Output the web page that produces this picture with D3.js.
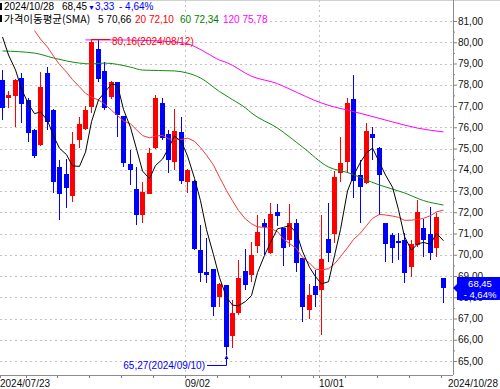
<!DOCTYPE html>
<html>
<head>
<meta charset="utf-8">
<script src="https://cdn.jsdelivr.net/npm/d3@7"></script>
<style>
body { margin: 0; background: #fff; }
svg { display: block; font-family: "Liberation Sans", Arial, sans-serif; }
</style>
</head>
<body>
<div id="chart"></div>
<script>
// trading days shown
const dates = [
  "2024/07/23","2024/07/24","2024/07/25","2024/07/26","2024/07/29","2024/07/30","2024/07/31",
  "2024/08/01","2024/08/02","2024/08/05","2024/08/06","2024/08/07","2024/08/08","2024/08/09",
  "2024/08/12","2024/08/13","2024/08/14","2024/08/15","2024/08/16","2024/08/19","2024/08/20",
  "2024/08/21","2024/08/22","2024/08/23","2024/08/26","2024/08/27","2024/08/28","2024/08/29",
  "2024/08/30","2024/09/02","2024/09/03","2024/09/04","2024/09/05","2024/09/06","2024/09/09",
  "2024/09/10","2024/09/11","2024/09/12","2024/09/13","2024/09/16","2024/09/17","2024/09/18",
  "2024/09/19","2024/09/20","2024/09/23","2024/09/24","2024/09/25","2024/09/26","2024/09/27",
  "2024/09/30","2024/10/01","2024/10/02","2024/10/03","2024/10/04","2024/10/07","2024/10/08",
  "2024/10/09","2024/10/10","2024/10/11","2024/10/14","2024/10/15","2024/10/16","2024/10/17",
  "2024/10/18","2024/10/21","2024/10/22","2024/10/23","2024/10/24","2024/10/25","2024/10/28"
];

const opens = [
  78.22,77.39,77.47,78.32,77.28,75.87,75.16,78.55,76.81,74.13,
  73.80,72.77,75.40,75.92,76.95,79.68,78.65,77.42,78.13,76.53,
  74.27,73.09,71.87,72.86,75.02,77.14,75.68,74.37,75.77,73.42,
  73.47,70.22,69.19,69.33,68.01,68.57,66.17,67.26,69.23,69.05,
  70.41,71.49,70.08,72.01,71.26,70.69,71.49,69.85,67.40,68.53,
  68.34,70.74,70.98,73.85,74.37,77.33,73.75,73.38,75.68,75.02,
  71.49,70.93,70.65,70.69,69.42,70.46,71.26,70.98,70.32,68.91
];
const highs = [
  78.69,77.71,78.25,78.55,77.38,75.90,78.60,78.83,76.85,74.46,
  74.51,75.77,76.48,77.00,80.16,80.11,79.07,78.18,78.15,76.55,
  74.93,74.13,73.42,75.02,77.52,77.38,75.87,76.86,76.48,74.02,
  73.50,71.40,70.78,69.35,68.65,68.60,67.87,69.75,70.27,70.60,
  71.87,71.68,72.44,72.39,71.28,72.39,71.68,69.87,68.62,69.28,
  71.87,72.44,73.94,75.54,77.38,78.46,74.46,76.20,76.01,75.05,
  71.50,71.02,71.02,71.02,70.69,72.58,71.68,72.25,71.96,68.91
];
const lows = [
  76.34,76.91,76.01,76.20,75.31,74.55,75.10,75.87,72.91,71.63,
  72.20,72.48,75.02,75.87,76.67,78.13,76.81,77.33,75.54,74.13,
  73.28,71.40,71.49,72.84,74.98,75.40,73.85,73.99,73.33,72.91,
  70.22,68.72,68.67,67.12,67.54,65.27,65.61,67.16,68.34,68.72,
  70.08,69.98,70.05,71.35,69.47,70.36,69.19,66.83,66.98,67.54,
  66.22,69.66,70.55,73.42,73.85,72.67,71.49,73.33,74.46,71.87,
  69.66,69.61,69.75,68.67,68.95,70.36,69.89,69.75,69.89,67.73
];
const closes = [
  76.91,77.52,78.22,77.09,75.73,74.65,77.89,76.25,73.42,72.86,
  73.14,75.21,76.15,76.81,80.01,78.27,76.91,78.13,76.58,74.32,
  73.99,71.87,72.95,74.79,77.38,75.49,74.46,75.82,73.47,73.99,
  70.27,69.14,69.05,67.54,68.62,65.66,67.26,68.91,68.57,69.98,
  71.07,71.31,71.92,71.82,70.32,71.49,69.61,67.54,68.11,68.11,
  69.80,70.08,73.66,74.32,77.14,73.47,73.19,75.82,75.49,73.75,
  70.51,70.32,70.55,69.14,70.51,72.01,70.69,70.08,71.78,68.45
];

// moving averages (null = not shown)
const ma5 = [
  80.25,79.40,78.70,77.80,77.09,76.64,76.72,76.32,75.59,75.01,
  74.71,74.18,74.16,74.83,76.26,77.29,77.63,78.03,77.98,76.84,
  75.99,74.98,73.94,73.58,74.20,74.50,75.01,75.59,75.32,74.65,
  73.60,72.54,71.18,70.00,68.92,68.00,67.63,67.60,67.80,68.08,
  69.16,69.97,70.57,71.22,71.29,71.37,71.03,70.16,69.41,68.97,
  68.63,68.73,69.95,71.19,73.00,73.73,74.36,74.79,75.02,74.34,
  73.75,73.18,72.12,70.85,70.21,70.51,70.58,70.49,71.01,70.66
];
const ma20 = [
  null,null,null,null,null,80.55,80.15,79.77,79.35,78.95,
  78.60,78.24,77.90,77.60,77.42,77.28,77.10,76.80,76.55,76.30,
  76.16,75.88,75.61,75.50,75.58,75.62,75.45,75.43,75.43,75.49,
  75.34,75.04,74.69,74.22,73.65,73.02,72.54,72.08,71.68,71.46,
  71.31,71.29,71.24,71.09,70.73,70.53,70.29,69.88,69.61,69.32,
  69.29,69.34,69.57,69.91,70.33,70.72,71.02,71.37,71.71,71.90,
  71.87,71.82,71.76,71.62,71.63,71.66,71.71,71.84,72.02,72.10
];
// [day index, value]
const ma60 = [
  [0,79.59],[5,79.49],[8,79.26],[12,79.02],[14,78.98],[16,79.02],[20,78.83],
  [22,78.69],[27,78.65],[29,78.55],[31,78.32],[34,77.68],[36,77.30],[38,76.91],
  [39,76.67],[43,75.96],[47,75.07],[51,74.13],[54,73.87],[59,73.28],[63,72.91],
  [66,72.55],[69,72.34]
];
const ma120 = [
  [13,80.11],[17,80.11],[23,80.08],[27,80.01],[29,79.93],[32,79.50],[34,79.16],
  [35,79.05],[39,78.40],[43,78.05],[45,77.80],[50,77.14],[52,76.95],[54,76.81],
  [61,76.25],[65,75.96],[69,75.78]
];

const priceTicks = [65,66,67,68,69,70,71,72,73,74,75,76,77,78,79,80,81];
const minorTicks = [65.5,66.5,67.5,68.5,69.5,70.5,71.5,72.5,73.5,74.5,75.5,76.5,77.5,78.5,79.5,80.5];
const weekTicks = ["2024/07/23","2024/07/29","2024/08/05","2024/08/12","2024/08/19","2024/08/26",
  "2024/09/02","2024/09/09","2024/09/16","2024/09/23","2024/09/30","2024/10/01","2024/10/07",
  "2024/10/14","2024/10/21","2024/10/28"];
const gridDates = ["2024/09/02","2024/10/01"];
const labelDates = ["2024/07/23","2024/09/02","2024/10/01","2024/10/28"];
const labelText = ["2024/07/23","09/02","10/01","2024/10/28"];

const W = 500, H = 389;
const axisX = 453, axisY = 375;
const upColor = "#ff0000", downColor = "#0000ff";
const fmt = v => d3.format(".2f")(v).replace(".", ",");

const svg = d3.select("#chart").append("svg")
  .attr("width", W).attr("height", H);

const x = d3.scaleBand().domain(dates).range([0, 447]);
const y = d3.scaleLinear().domain([65, 81]).range([361, 21]);
const left = d => Math.round(x(d));
const cx = d => left(d) + 2.5;

svg.append("defs").append("clipPath").attr("id", "plot")
  .append("rect").attr("width", axisX).attr("height", axisY);

// frame top line
svg.append("line").attr("x1", 0).attr("x2", W).attr("y1", 0.5).attr("y2", 0.5)
  .attr("stroke", "#d0d0d0");

// grid
const grid = svg.append("g")
  .attr("stroke", "#c4c4c4").attr("stroke-dasharray", "2,3")
  .attr("shape-rendering", "crispEdges");
grid.selectAll(".h").data(priceTicks).join("line")
  .attr("x1", 0).attr("x2", axisX)
  .attr("y1", d => Math.round(y(d)) + 0.5).attr("y2", d => Math.round(y(d)) + 0.5);
grid.selectAll(".v").data(gridDates).join("line")
  .attr("x1", d => left(d) + 0.5).attr("x2", d => left(d) + 0.5)
  .attr("y1", 0).attr("y2", axisY);

// candles
const plot = svg.append("g").attr("clip-path", "url(#plot)");
const candles = plot.append("g").attr("shape-rendering", "crispEdges")
  .selectAll("g").data(dates).join("g");
candles.append("line")
  .attr("x1", d => cx(d)).attr("x2", d => cx(d))
  .attr("y1", (d, i) => Math.round(y(highs[i])))
  .attr("y2", (d, i) => Math.round(y(lows[i])))
  .attr("stroke", (d, i) => closes[i] >= opens[i] ? upColor : downColor);
candles.append("rect")
  .attr("x", d => left(d))
  .attr("width", 5)
  .attr("y", (d, i) => Math.round(y(Math.max(opens[i], closes[i]))))
  .attr("height", (d, i) => Math.max(1, Math.round(y(Math.min(opens[i], closes[i]))) - Math.round(y(Math.max(opens[i], closes[i])))))
  .attr("fill", (d, i) => closes[i] >= opens[i] ? upColor : downColor);

// moving average lines
const dayLine = d3.line()
  .defined(d => d[1] != null)
  .x(d => cx(dates[d[0]]))
  .y(d => y(d[1]));
const maLines = [
  {values: ma120, color: "#ff00ff", curve: d3.curveMonotoneX},
  {values: ma60, color: "#168a16", curve: d3.curveMonotoneX},
  {values: ma20.map((v, i) => [i, v]), color: "#f03a3a", curve: d3.curveLinear},
  {values: ma5.map((v, i) => [i, v]), color: "#000000", curve: d3.curveLinear}
];
plot.selectAll(".ma").data(maLines).join("path")
  .attr("class", "ma")
  .attr("fill", "none")
  .attr("stroke", d => d.color)
  .attr("stroke-width", 1)
  .attr("d", d => dayLine.curve(d.curve)(d.values));

// high / low marks
const hi = d3.maxIndex(highs), lo = d3.minIndex(lows);
const hy = Math.round(y(highs[hi])) + 0.5;
svg.append("line").attr("x1", cx(dates[hi])).attr("x2", 110)
  .attr("y1", hy).attr("y2", hy).attr("stroke", upColor);
svg.append("text").attr("x", 112).attr("y", hy + 5.5)
  .attr("font-size", 10).attr("fill", upColor)
  .text(`${fmt(highs[hi])}(${dates[hi]})`);

const ly = Math.round(y(lows[lo]));
const lx = cx(dates[lo]);
svg.append("path")
  .attr("d", `M207,365.5H${lx}V${ly + 3}`)
  .attr("fill", "none").attr("stroke", downColor);
svg.append("path")
  .attr("d", `M${lx},${ly}L${lx - 2},${ly + 4}L${lx + 2},${ly + 4}Z`)
  .attr("fill", downColor);
svg.append("text").attr("x", 205).attr("y", 369)
  .attr("text-anchor", "end")
  .attr("font-size", 10).attr("fill", downColor)
  .text(`${fmt(lows[lo])}(${dates[lo]})`);

// axes
const yAxis = svg.append("g").attr("transform", `translate(${axisX},0)`)
  .call(d3.axisRight(y).tickValues(priceTicks).tickSize(4).tickPadding(1).tickFormat(fmt));
yAxis.select(".domain").remove();
yAxis.selectAll("text").attr("font-size", 10).attr("font-family", "Liberation Sans, Arial").attr("fill", "#111");
yAxis.selectAll("line").attr("stroke", "#808080");
const yMinor = svg.append("g").attr("transform", `translate(${axisX},0)`)
  .call(d3.axisRight(y).tickValues(minorTicks).tickSize(2).tickFormat(""));
yMinor.select(".domain").remove();
yMinor.selectAll("line").attr("stroke", "#808080");

svg.append("line").attr("x1", axisX + 0.5).attr("x2", axisX + 0.5)
  .attr("y1", 0).attr("y2", axisY).attr("stroke", "#8c8c8c");
svg.append("line").attr("x1", 0).attr("x2", axisX)
  .attr("y1", axisY + 0.5).attr("y2", axisY + 0.5).attr("stroke", "#8c8c8c");

svg.append("g").attr("stroke", "#808080").attr("shape-rendering", "crispEdges")
  .selectAll("line").data(weekTicks).join("line")
  .attr("x1", d => left(d) + 0.5).attr("x2", d => left(d) + 0.5)
  .attr("y1", axisY + 1).attr("y2", axisY + 3);

svg.append("g").selectAll("text").data(labelDates).join("text")
  .attr("x", (d, i) => i === labelDates.length - 1 ? 498 : left(d))
  .attr("y", 387)
  .attr("text-anchor", (d, i) => i === labelDates.length - 1 ? "end" : "start")
  .attr("font-size", 10).attr("fill", "#111")
  .text((d, i) => labelText[i]);

// last price tag
const last = closes.length - 1;
const chg = closes[last] - closes[last - 1];
const pct = chg / closes[last - 1] * 100;
const ty = Math.round(y(closes[last]));
svg.append("path")
  .attr("d", `M${axisX},${ty}L${axisX + 4},${ty - 4}V${ty - 11}H500V${ty + 12}H${axisX + 4}V${ty + 4}Z`)
  .attr("fill", downColor);
svg.append("text").attr("x", 480).attr("y", ty - 1.5).attr("text-anchor", "middle")
  .attr("font-size", 9.5).attr("fill", "#fff").text(fmt(closes[last]));
svg.append("text").attr("x", 480).attr("y", ty + 9.5).attr("text-anchor", "middle")
  .attr("font-size", 9.5).attr("fill", "#fff").text(`- ${fmt(Math.abs(pct))}%`);

// legend
const lg = svg.append("g");
lg.append("rect").attr("x", 0).attr("y", 1).attr("width", 156).attr("height", 12).attr("fill", "#fff");
lg.append("rect").attr("x", 0).attr("y", 12).attr("width", 263).attr("height", 15).attr("fill", "#fff");
lg.append("rect").attr("x", 0).attr("y", 3).attr("width", 2).attr("height", 7).attr("fill", "#000");
lg.append("rect").attr("x", 0).attr("y", 15).attr("width", 2).attr("height", 7).attr("fill", "#000");

const row1 = [
  {t: dates[last], x: 4, c: "#000"},
  {t: fmt(closes[last]), x: 62, c: "#000"},
  {t: fmt(Math.abs(chg)), x: 88, c: downColor, mark: "▼"},
  {t: "- " + fmt(Math.abs(pct)) + "%", x: 119, c: downColor}
];
const r1 = lg.selectAll(".r1").data(row1).join("text")
  .attr("x", d => d.x).attr("y", 10)
  .attr("font-size", 10).attr("fill", d => d.c);
r1.filter(d => d.mark).append("tspan").attr("font-size", 7).text(d => d.mark);
r1.append("tspan").text(d => d.t);

lg.append("text").attr("x", 4).attr("y", 23)
  .attr("font-size", 10.5).attr("font-family", "Noto Sans CJK KR, sans-serif")
  .attr("fill", "#000").text("가격이동평균(SMA)");
const row2 = [
  {t: "5 " + fmt(ma5[last]), x: 98, c: "#000"},
  {t: "20 " + fmt(ma20[last]), x: 135, c: "#ff0000"},
  {t: "60 " + fmt(ma60[ma60.length - 1][1]), x: 180, c: "#008000"},
  {t: "120 " + fmt(ma120[ma120.length - 1][1]), x: 223, c: "#ff00ff"}
];
lg.selectAll(".r2").data(row2).join("text")
  .attr("x", d => d.x).attr("y", 23)
  .attr("font-size", 10).attr("fill", d => d.c).text(d => d.t);
</script>
</body>
</html>
